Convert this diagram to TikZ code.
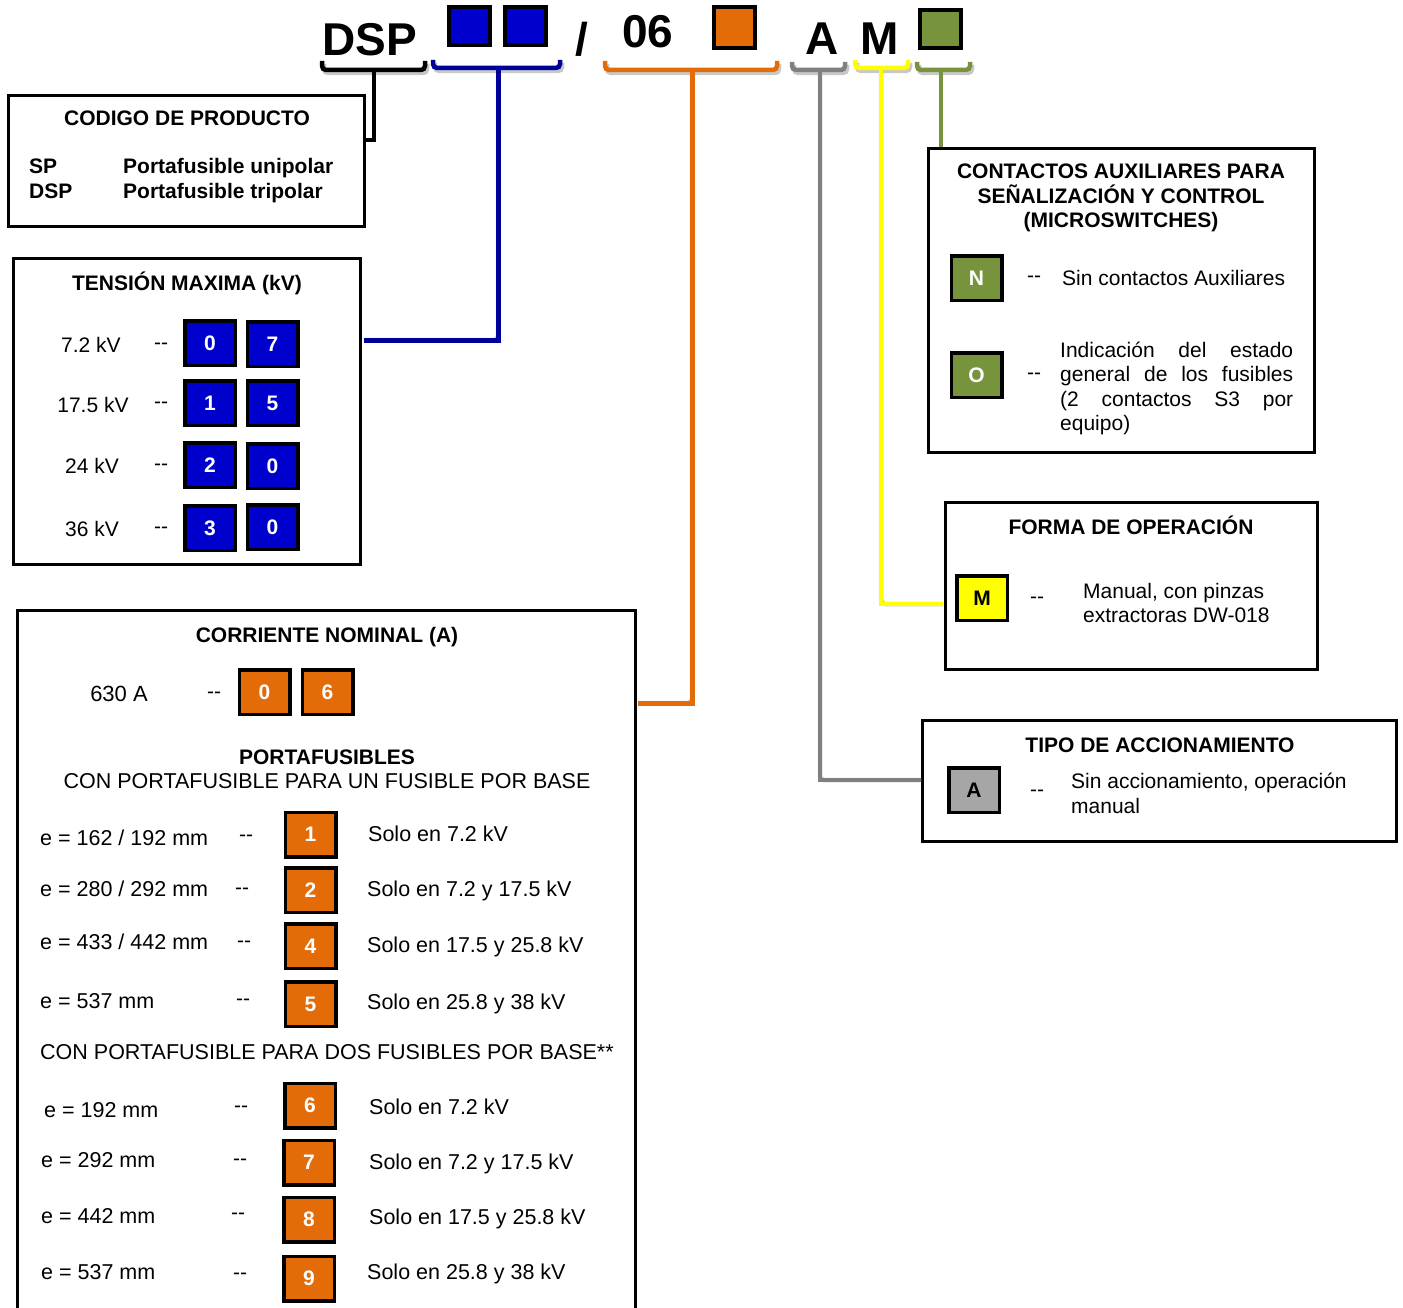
\documentclass[tikz,border=0pt]{standalone}
\usepackage{fontspec}
\setmainfont{Liberation Sans}
\definecolor{qblue}{HTML}{0000CC}
\definecolor{qnavy}{HTML}{00009A}
\definecolor{qorange}{HTML}{E36C09}
\definecolor{qgreen}{HTML}{77933C}
\definecolor{qyellow}{HTML}{FFFF00}
\definecolor{qgraysq}{HTML}{A6A6A6}
\definecolor{qgrayln}{HTML}{808080}
\definecolor{qshadow}{HTML}{C8C8C8}
\newcommand\dashpair{-{}-}
\begin{document}
\begin{tikzpicture}[x=1pt,y=-1pt,
  every node/.style={inner sep=0pt, font=\fontsize{21}{24.5}\selectfont},
  ttl/.style={font=\fontsize{21}{24.5}\selectfont\bfseries},
  wide/.style={font=\fontsize{21.5}{25}\selectfont},
  hdr/.style={font=\fontsize{46}{50}\selectfont\bfseries},
  frame/.style={draw=black, line width=3pt, anchor=north west},
  sq/.style={draw=black, line width=3.5pt, minimum width=50.5pt, minimum height=44.5pt, font=\fontsize{21}{24.5}\selectfont\bfseries, text=white},
  bsq/.style={sq, fill=qblue},
  osq/.style={sq, fill=qorange},
  gsq/.style={sq, fill=qgreen},
  ysq/.style={sq, fill=qyellow, text=black},
  asq/.style={sq, fill=qgraysq, text=black},
  hsq/.style={draw=black, line width=4pt, minimum width=41pt, minimum height=38pt},
  lead/.style={line width=4.5pt, rounded corners=4pt},
  shade/.style={line width=4.5pt, rounded corners=4pt, draw=qshadow},
]
\useasboundingbox (0,0) rectangle (1403,1308);

% ---------------- header ----------------
\node[hdr, anchor=base west] (hDSP) at (322,56) {DSP};
\node[hsq, fill=qblue] (hB1) at (469.5,26) {};
\node[hsq, fill=qblue] (hB2) at (525,26) {};
\node[hdr, anchor=base] (hSl) at (582,56) {/};
\node[hdr, anchor=base west] (h06) at (622,48) {06};
\node[hsq, fill=qorange, minimum height=41pt] (hO) at (734.5,27.5) {};
\node[hdr, anchor=base] (hA) at (822,55) {A};
\node[hdr, anchor=base] (hM) at (880,55) {M};
\node[hsq, fill=qgreen] (hG) at (940.5,29) {};

% ---------------- boxes ----------------
\node[frame, minimum width=356, minimum height=131] (codigo) at (7,94) {};
\node[frame, minimum width=347, minimum height=306] (tension) at (12,257) {};
\node[frame, minimum width=618, minimum height=717] (corr) at (16,609) {};
\node[frame, minimum width=386, minimum height=304] (cont) at (927,147) {};
\node[frame, minimum width=372, minimum height=167] (forma) at (944,501) {};
\node[frame, minimum width=474, minimum height=121] (tipo) at (921,719) {};

% ---------------- connector points ----------------
\coordinate (kS) at (373.5,70);  \coordinate (kE) at (366,140);
\coordinate (bS) at (498,68);    \coordinate (bE) at (364,340);
\coordinate (oS) at (692,70);    \coordinate (oE) at (638,703);
\coordinate (gS) at (820,70);    \coordinate (gE) at (921,780);
\coordinate (yS) at (881,68);    \coordinate (yE) at (943,604);
\coordinate (vS) at (941,70);    \coordinate (vE) at (941,147);

% shadows
\begin{scope}[shift={(2,3)}]
\draw[shade] (322,61) |- (425,70) -- (425,61);
\draw[shade] (433,60) |- (560,68) -- (560,60);
\draw[shade] (605,61) |- (777,70) -- (777,61);
\draw[shade] (792,62) |- (845,70) -- (845,62);
\draw[shade] (855,60) |- (908,68) -- (908,60);
\draw[shade] (917,62) |- (970,70) -- (970,62);
\end{scope}
\draw[shade, shift={(-2,3)}] (bS) |- (bE);
\draw[shade, shift={(3,2)}] (oS) |- (oE);
\draw[shade, shift={(0,3)}] (gS) |- (gE);
\draw[shade, shift={(3,3)}] (yS) |- (yE);

% brackets
\draw[lead, black] (322,61) |- (425,70) -- (425,61);
\draw[lead, qnavy] (433,60) |- (560,68) -- (560,60);
\draw[lead, qorange] (605,61) |- (777,70) -- (777,61);
\draw[lead, qgrayln] (792,62) |- (845,70) -- (845,62);
\draw[lead, qyellow] (855,60) |- (908,68) -- (908,60);
\draw[lead, qgreen] (917,62) |- (970,70) -- (970,62);

% stems
\draw[line width=4pt, black] (kS) |- (kE);
\draw[line width=5pt, qnavy] (bS) |- (bE);
\draw[line width=5pt, qorange] (oS) |- (oE);
\draw[line width=4.5pt, qgrayln] (gS) |- (gE);
\draw[line width=4.5pt, qyellow] (yS) |- (yE);
\draw[line width=4pt, qgreen] (vS) -- (vE);

% ---------------- CODIGO DE PRODUCTO ----------------
\node[ttl, anchor=base] (cT) at (187,126) {CODIGO DE PRODUCTO};
\node[ttl, anchor=base west] (cSP) at (29,174) {SP};
\node[ttl, anchor=base west] (cDSP) at (29,199) {DSP};
\node[ttl, anchor=base west] (cU) at (123,174) {Portafusible unipolar};
\node[ttl, anchor=base west] (cTr) at (123,199) {Portafusible tripolar};

% ---------------- TENSION ----------------
\node[ttl, anchor=base] (tT) at (187,290) {TENSIÓN MAXIMA (kV)};
\node[anchor=base] (tL1) at (91,352) {7.2 kV};
\node[anchor=base] (tL2) at (93,412) {17.5 kV};
\node[anchor=base] (tL3) at (92,473) {24 kV};
\node[anchor=base] (tL4) at (92,536) {36 kV};
\node[anchor=base] (tD1) at (161,349) {\dashpair};
\node[anchor=base] (tD2) at (161,408) {\dashpair};
\node[anchor=base] (tD3) at (161,470) {\dashpair};
\node[anchor=base] (tD4) at (161,533) {\dashpair};
\node[bsq] (t01) at (210,343) {0};
\node[bsq] (t02) at (272.5,344) {7};
\node[bsq] (t11) at (210,403) {1};
\node[bsq] (t12) at (272.5,403) {5};
\node[bsq] (t21) at (210,465) {2};
\node[bsq] (t22) at (272.5,466) {0};
\node[bsq] (t31) at (210,528) {3};
\node[bsq] (t32) at (272.5,527) {0};

% ---------------- CORRIENTE NOMINAL ----------------
\node[ttl, anchor=base] (rT) at (327,642) {CORRIENTE NOMINAL (A)};
\node[anchor=base, font=\fontsize{22}{25}\selectfont] (r630) at (119,701) {630 A};
\node[anchor=base] (rD0) at (214,698) {\dashpair};
\node[osq] (r0) at (264.5,692) {0};
\node[osq] (r6) at (327.5,692) {6};
\node[ttl, anchor=base] (rP) at (327,764) {PORTAFUSIBLES};
\node[wide, anchor=base] (rC1) at (327,788) {CON PORTAFUSIBLE PARA UN FUSIBLE POR BASE};

\node[wide, anchor=base west] (e1) at (40,845) {e = 162 / 192 mm};
\node[wide, anchor=base west] (e2) at (40,896) {e = 280 / 292 mm};
\node[wide, anchor=base west] (e3) at (40,949) {e = 433 / 442 mm};
\node[wide, anchor=base west] (e4) at (40,1008) {e = 537 mm};
\node[anchor=base] (d1) at (246,841) {\dashpair};
\node[anchor=base] (d2) at (242,894) {\dashpair};
\node[anchor=base] (d3) at (244,947) {\dashpair};
\node[anchor=base] (d4) at (243,1005) {\dashpair};
\node[osq] (s1) at (310.5,834.5) {1};
\node[osq] (s2) at (310.5,890) {2};
\node[osq] (s4) at (310.5,946) {4};
\node[osq] (s5) at (310.5,1004) {5};
\node[wide, anchor=base west] (x1) at (368,841) {Solo en 7.2 kV};
\node[wide, anchor=base west] (x2) at (367,896) {Solo en 7.2 y 17.5 kV};
\node[wide, anchor=base west] (x3) at (367,952) {Solo en 17.5 y 25.8 kV};
\node[wide, anchor=base west] (x4) at (367,1009) {Solo en 25.8 y 38 kV};

\node[wide, anchor=base west] (rC2) at (40,1059) {CON PORTAFUSIBLE PARA DOS FUSIBLES POR BASE**};

\node[wide, anchor=base west] (e6) at (44,1117) {e = 192 mm};
\node[wide, anchor=base west] (e7) at (41,1167) {e = 292 mm};
\node[wide, anchor=base west] (e8) at (41,1223) {e = 442 mm};
\node[wide, anchor=base west] (e9) at (41,1279) {e = 537 mm};
\node[anchor=base] (d6) at (241,1112) {\dashpair};
\node[anchor=base] (d7) at (240,1165) {\dashpair};
\node[anchor=base] (d8) at (238,1219) {\dashpair};
\node[anchor=base] (d9) at (240,1279) {\dashpair};
\node[osq] (s6) at (310,1105.5) {6};
\node[osq] (s7) at (309,1162.5) {7};
\node[osq] (s8) at (309,1219.5) {8};
\node[osq] (s9) at (309,1278.5) {9};
\node[wide, anchor=base west] (x6) at (369,1114) {Solo en 7.2 kV};
\node[wide, anchor=base west] (x7) at (369,1169) {Solo en 7.2 y 17.5 kV};
\node[wide, anchor=base west] (x8) at (369,1224) {Solo en 17.5 y 25.8 kV};
\node[wide, anchor=base west] (x9) at (367,1279) {Solo en 25.8 y 38 kV};

% ---------------- CONTACTOS ----------------
\node[ttl, anchor=base] (kT1) at (1121,179) {CONTACTOS AUXILIARES PARA};
\node[ttl, anchor=base] (kT2) at (1121,204) {SEÑALIZACIÓN Y CONTROL};
\node[ttl, anchor=base] (kT3) at (1121,228) {(MICROSWITCHES)};
\node[gsq] (kN) at (976.5,278) {N};
\node[anchor=base] (kD1) at (1034,283) {\dashpair};
\node[anchor=base west] (kX1) at (1062,285) {Sin contactos Auxiliares};
\node[gsq] (kO) at (976.5,375) {O};
\node[anchor=base] (kD2) at (1034,379) {\dashpair};
\node[anchor=base west] (kL1) at (1060,357) {\makebox[233pt][s]{Indicación del estado}};
\node[anchor=base west] (kL2) at (1060,381) {\makebox[233pt][s]{general de los fusibles}};
\node[anchor=base west] (kL3) at (1060,406) {\makebox[233pt][s]{(2 contactos S3 por}};
\node[anchor=base west] (kL4) at (1060,430) {equipo)};

% ---------------- FORMA DE OPERACION ----------------
\node[ttl, anchor=base] (fT) at (1131,534) {FORMA DE OPERACIÓN};
\node[ysq] (fM) at (982,598) {M};
\node[anchor=base] (fD) at (1037,603) {\dashpair};
\node[anchor=base west] (fX1) at (1083,598) {Manual, con pinzas};
\node[anchor=base west] (fX2) at (1083,622) {extractoras DW-018};

% ---------------- TIPO DE ACCIONAMIENTO ----------------
\node[ttl, anchor=base] (aT) at (1160,752) {TIPO DE ACCIONAMIENTO};
\node[asq] (aA) at (974,790) {A};
\node[anchor=base] (aD) at (1037,796) {\dashpair};
\node[anchor=base west] (aX1) at (1071,788) {Sin accionamiento, operación};
\node[anchor=base west] (aX2) at (1071,813) {manual};
\end{tikzpicture}
\end{document}
